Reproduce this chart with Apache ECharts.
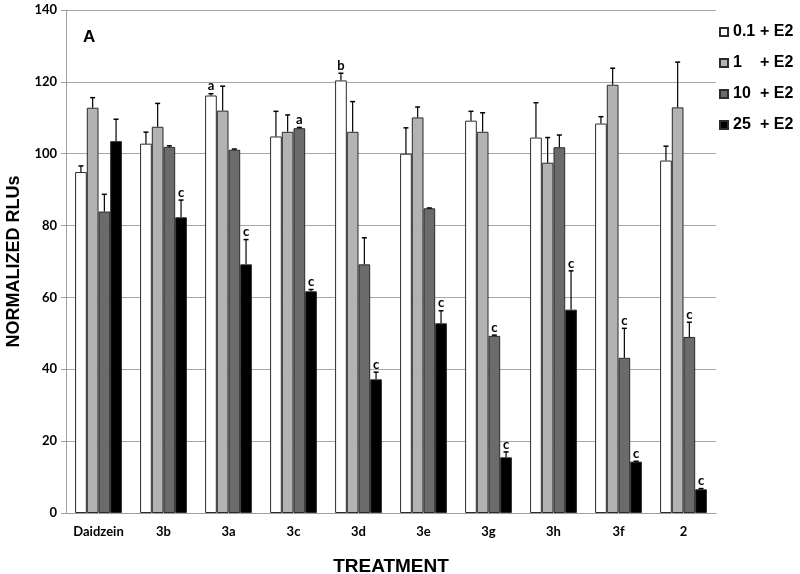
<!DOCTYPE html>
<html><head><meta charset="utf-8">
<script src="https://cdn.jsdelivr.net/npm/echarts@6/dist/echarts.min.js"></script>
<style>html,body{margin:0;padding:0;background:#fff}#c{width:800px;height:574px}</style>
</head><body><div id="c"></div>
<script>
const categories = ['Daidzein','3b','3a','3c','3d','3e','3g','3h','3f','2'];
const seriesNames = ['0.1 + E2','1 + E2','10 + E2','25 + E2'];
const v01 = [94.9,102.8,116.2,104.8,120.4,100.0,109.2,104.5,108.4,98.1];
const v1  = [112.8,107.5,112.0,106.1,106.1,110.1,106.1,97.5,119.2,112.9];
const v10 = [83.9,101.9,101.1,107.1,69.2,84.8,49.3,101.8,43.2,49.0];
const v25 = [103.5,82.3,69.2,61.7,37.2,52.8,15.5,56.6,14.3,6.6];
const e01 = [1.7,3.2,0.5,7.0,2.0,7.2,2.6,9.7,1.9,4.0];
const e1  = [2.8,6.5,6.8,4.7,8.4,2.9,5.3,7.0,4.6,12.6];
const e10 = [4.8,0.3,0.2,0.2,7.4,0.1,0.2,3.4,8.2,4.1];
const e25 = [6.1,4.8,6.9,0.5,2.0,3.5,1.5,10.8,0.1,0.2];
const l01 = ['','','a','','b','','','','',''];
const l1  = ['','','','','','','','','',''];
const l10 = ['','','','a','','','c','','c','c'];
const l25 = ['','c','c','c','c','c','c','c','c','c'];
const yTicks = {min:0,max:140,interval:20};

const values = [v01,v1,v10,v25];
const errors = [e01,e1,e10,e25];
const letters = [l01,l1,l10,l25];
const colors = ['#ffffff','#b3b3b3','#6b6b6b','#000000'];
const BW = 11.7;
const FONT = 'Lato, "Open Sans", sans-serif';
const ARIAL = 'Arial, "Liberation Sans", sans-serif';

const chart = echarts.init(document.getElementById('c'), null, {renderer:'canvas'});
const series = [];
values.forEach((vals,si)=>{
  series.push({
    name: seriesNames[si], type:'bar', data: vals, barWidth: BW, barGap:'0%',
    itemStyle:{color:colors[si], borderColor:'#2b2b2b', borderWidth:1}
  });
});
values.forEach((vals,si)=>{
  const data = vals.map((v,i)=>[i, v, v+errors[si][i], letters[si][i]]);
  series.push({
    type:'custom', name:'err'+si, silent:true, z:5,
    data: data,
    encode:{x:0,y:[1,2]},
    renderItem:(params, api)=>{
      const i = api.value(0);
      const p0 = api.coord([i, api.value(1)]);
      const p1 = api.coord([i, api.value(2)]);
      const off = (si-1.5)*BW;
      const x = p0[0]+off;
      const lab = data[params.dataIndex][3];
      const children = [
        {type:'line', shape:{x1:x,y1:p0[1],x2:x,y2:p1[1]}, style:{stroke:'#000',lineWidth:1.2}},
        {type:'line', shape:{x1:x-2.5,y1:p1[1],x2:x+2.5,y2:p1[1]}, style:{stroke:'#000',lineWidth:1.5}}
      ];
      if(lab){
        children.push({type:'text', style:{text:lab, x:x, y:p1[1]-1, align:'center', verticalAlign:'bottom',
          font:'bold 13px '+FONT, fill:'#000'}});
      }
      return {type:'group', children};
    }
  });
});

chart.setOption({
  animation:false,
  backgroundColor:'#fff',
  grid:{left:66,right:84,top:10,bottom:61,containLabel:false,outerBoundsMode:'none'},
  legend:{
    data: seriesNames, orient:'vertical', left:714, top:19, itemGap:15,
    itemWidth:8, itemHeight:8, icon:'rect', padding:5,
    formatter: n=>{const parts=n.split(' + '); return '{a|'+parts[0]+'}{b|+ E2}';},
    textStyle:{rich:{
      a:{width:27,fontFamily:ARIAL,fontWeight:'bold',fontSize:16,color:'#000'},
      b:{fontFamily:ARIAL,fontWeight:'bold',fontSize:16,color:'#000'}
    }}
  },
  xAxis:{
    type:'category', data:categories,
    name:'TREATMENT', nameLocation:'middle', nameGap:44,
    nameTextStyle:{fontFamily:'"Liberation Sans Narrow", Arial, sans-serif',fontWeight:'bold',fontSize:19,color:'#000'},
    axisLine:{lineStyle:{color:'#a0a0a0'}}, axisTick:{show:false},
    axisLabel:{interval:0,fontFamily:FONT,fontWeight:'bold',fontSize:13,color:'#000',margin:12}
  },
  yAxis:{
    type:'value', min:yTicks.min, max:yTicks.max, interval:yTicks.interval,
    name:'NORMALIZED RLUs', nameLocation:'middle', nameGap:41,
    nameTextStyle:{fontFamily:ARIAL,fontWeight:'bold',fontSize:18,color:'#000'},
    axisLine:{show:true,lineStyle:{color:'#a0a0a0'}},
    axisTick:{show:true,length:5,lineStyle:{color:'#a0a0a0'}},
    splitLine:{lineStyle:{color:'#a6a6a6'}},
    axisLabel:{fontFamily:FONT,fontWeight:'bold',fontSize:13,color:'#000',margin:9}
  },
  graphic:[{type:'text', left:83, top:29, style:{text:'A', font:'bold 17px '+ARIAL, fill:'#000'}}],
  series: series
});
</script></body></html>
